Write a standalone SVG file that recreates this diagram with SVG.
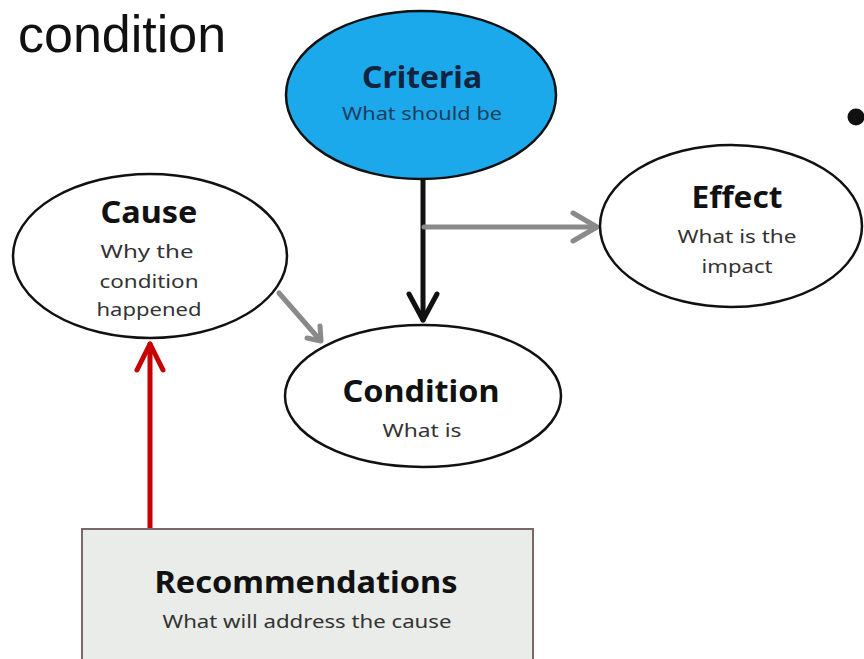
<svg xmlns="http://www.w3.org/2000/svg" width="864" height="659" viewBox="0 0 864 659">
<style>
.node{fill:#fff;stroke:#111;stroke-width:2.5}
.t{font-family:"Noto Sans","Liberation Sans",sans-serif;font-weight:bold;text-anchor:middle;fill:#111;font-size:31px}
.s{font-family:"Noto Sans","Liberation Sans",sans-serif;text-anchor:middle;fill:#333;font-size:18px}
.a{fill:none;stroke-linecap:round;stroke-linejoin:round}
</style>
<rect width="864" height="659" fill="#fff"/>
<text x="18" y="52" font-family="Liberation Sans, Arial, sans-serif" font-size="52" fill="#111">condition</text>
<circle cx="856" cy="117" r="8.5" fill="#111"/>
<g id="connectors">
<g class="a" stroke="#111" stroke-width="5">
<path d="M423 180V320"/>
<path d="M409 294L423 320L437 294"/>
</g>
<g class="a" stroke="#8a8a8a" stroke-width="5">
<path d="M424 227H596"/>
<path d="M573 213L597 227L573 241"/>
<path d="M279 293L320 340"/>
<path d="M307 338L321 341L320 326"/>
</g>
<g class="a" stroke="#c80000" stroke-width="5">
<path d="M150 529V344"/>
<path d="M137 370L150 344L163 370"/>
</g>
</g>
<g id="criteria">
<ellipse cx="421" cy="95" rx="135" ry="84" fill="#1ca9ec" stroke="#111" stroke-width="2.5"/>
<text class="t" x="422" y="88" textLength="120" lengthAdjust="spacingAndGlyphs" style="fill:#10233f">Criteria</text>
<text class="s" x="422" y="120" textLength="160" lengthAdjust="spacingAndGlyphs" style="fill:#1f3d5c">What should be</text>
</g>
<g id="cause">
<ellipse class="node" cx="150" cy="256" rx="137" ry="82"/>
<text class="t" x="149" y="223" textLength="97" lengthAdjust="spacingAndGlyphs">Cause</text>
<text class="s" x="147" y="258" textLength="93" lengthAdjust="spacingAndGlyphs">Why the</text>
<text class="s" x="149" y="288" textLength="99" lengthAdjust="spacingAndGlyphs">condition</text>
<text class="s" x="149" y="316" textLength="105" lengthAdjust="spacingAndGlyphs">happened</text>
</g>
<g id="effect">
<ellipse class="node" cx="731" cy="226" rx="131" ry="81"/>
<text class="t" x="737" y="208" textLength="91" lengthAdjust="spacingAndGlyphs">Effect</text>
<text class="s" x="737" y="243" textLength="119" lengthAdjust="spacingAndGlyphs">What is the</text>
<text class="s" x="737" y="273" textLength="71" lengthAdjust="spacingAndGlyphs">impact</text>
</g>
<g id="condition">
<ellipse class="node" cx="423" cy="396" rx="138" ry="71"/>
<text class="t" x="421" y="402" textLength="157" lengthAdjust="spacingAndGlyphs">Condition</text>
<text class="s" x="422" y="437" textLength="79" lengthAdjust="spacingAndGlyphs">What is</text>
</g>
<g id="recommendations">
<rect x="82" y="529" width="451" height="140" fill="#e9ece9" stroke="#7a6868" stroke-width="2"/>
<text class="t" x="306" y="593" textLength="303" lengthAdjust="spacingAndGlyphs">Recommendations</text>
<text class="s" x="307" y="628" textLength="289" lengthAdjust="spacingAndGlyphs">What will address the cause</text>
</g>
</svg>
